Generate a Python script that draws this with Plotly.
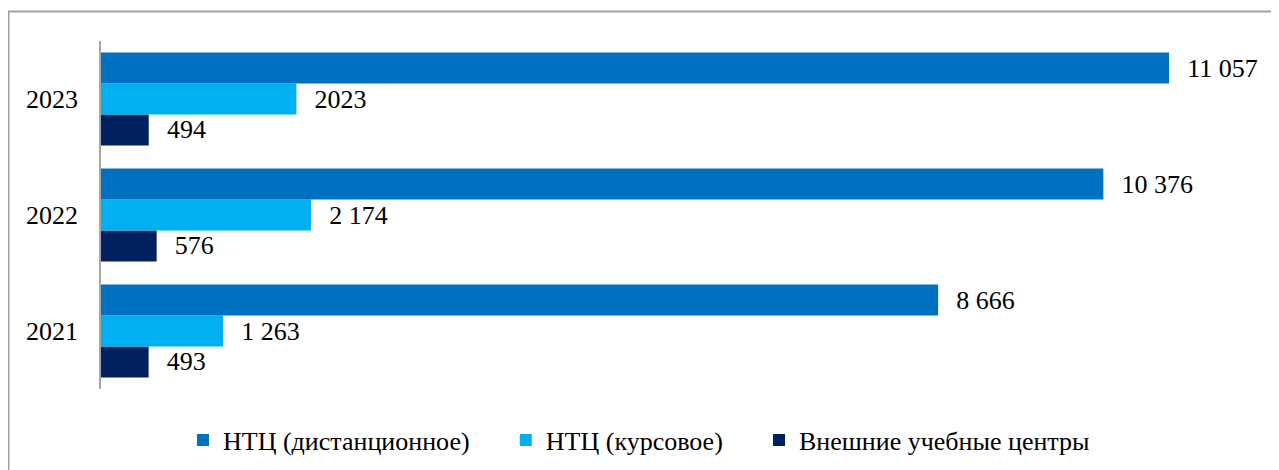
import plotly.graph_objects as go

years = ["2021", "2022", "2023"]
distance = [8666, 10376, 11057]
course = [1263, 2174, 2023]
external = [493, 576, 494]
distance_labels = ["8 666", "10 376", "11 057"]
course_labels = ["1 263", "2 174", "2023"]
external_labels = ["493", "576", "494"]

names = ["НТЦ (дистанционное)", "НТЦ (курсовое)", "Внешние учебные центры"]
colors = ["#0070C0", "#00B0F0", "#002060"]

W, H = 1279, 470
L, R, T, B = 93, 11, 33, 89
pw, ph = W - L - R, H - T - B

PAD = "\u2002\u200a"
LEG_PAD = "\u2003\u2009"
FAMILY = "Liberation Serif"
font = dict(family=FAMILY, size=26, color="#000000")

fig = go.Figure()
# added bottom-to-top within each group
for vals, labels, name, color in [
    (external, external_labels, names[2], colors[2]),
    (course, course_labels, names[1], colors[1]),
    (distance, distance_labels, names[0], colors[0]),
]:
    fig.add_trace(go.Bar(
        y=years, x=vals, orientation="h", name=name + LEG_PAD,
        marker=dict(color=color, line=dict(width=0)),
        text=[PAD + t for t in labels], textposition="outside",
        textfont=font, cliponaxis=False,
    ))

fig.update_layout(
    width=W, height=H,
    margin=dict(l=L, r=R, t=T, b=B),
    paper_bgcolor="white", plot_bgcolor="white",
    barmode="group", bargap=0.2, bargroupgap=0,
    font=font,
    showlegend=True,
    legend=dict(orientation="h", traceorder="reversed",
                x=(175 - L) / pw, xanchor="left",
                y=(ph + T - 432) / ph, yanchor="middle",
                font=dict(family=FAMILY, size=26, color="#000000"),
                itemwidth=30, bgcolor="rgba(0,0,0,0)"),
    xaxis=dict(range=[0, pw / 0.0966], visible=False, showgrid=False, zeroline=False),
    yaxis=dict(type="category", showline=True, linecolor="#A6A6A6", linewidth=1.5,
               ticks="", showgrid=False, zeroline=False, ticklabelstandoff=16,
               tickfont=font),
    shapes=[dict(type="rect", xref="paper", yref="paper",
                 x0=(0.5 - L) / pw, x1=(W + 20 - L) / pw,
                 y0=(ph + T - (H + 20)) / ph, y1=(ph + T - 3.5) / ph,
                 line=dict(color="#A0A0A0", width=2), fillcolor="rgba(0,0,0,0)",
                 layer="below")],
)

fig.write_html("out.html")
